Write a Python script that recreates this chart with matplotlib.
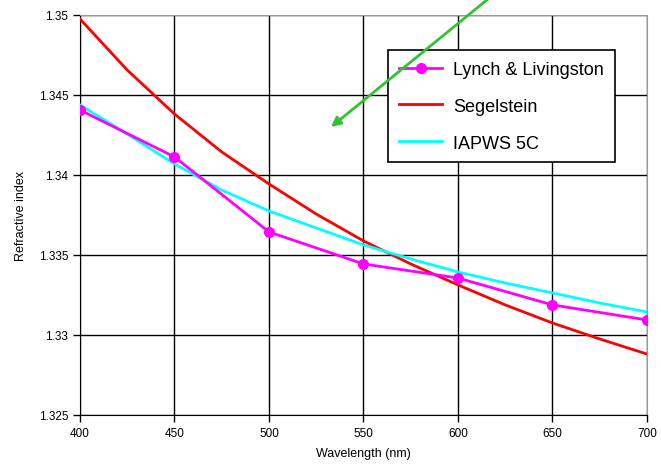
import matplotlib.pyplot as plt
from matplotlib.ticker import FormatStrFormatter

plt.rcParams["font.family"] = ["Liberation Sans", "DejaVu Sans"]

lynch_wl = [400, 450, 500, 550, 600, 650, 700]
lynch_n = [1.34406, 1.34113, 1.33644, 1.33444, 1.33356, 1.33188, 1.33094]

curve_wl = [400, 425, 450, 475, 500, 525, 550, 575, 600, 625, 650, 675, 700]
segelstein_n = [1.34975, 1.34656, 1.34381, 1.34144, 1.33944, 1.33756, 1.33588,
                1.33444, 1.33313, 1.33188, 1.33075, 1.32975, 1.32881]
iapws_n = [1.34438, 1.34256, 1.34069, 1.33906, 1.33775, 1.33669, 1.33563,
           1.33475, 1.33394, 1.33325, 1.33263, 1.33200, 1.33144]

fig = plt.figure(figsize=(6.61, 4.77), dpi=100)
ax = fig.add_axes([80 / 661, 1 - 416 / 477, 567 / 661, 400 / 477])

ax.plot(lynch_wl, lynch_n, color="#ff00ff", lw=2, marker="o", ms=7,
        label="Lynch & Livingston", zorder=4)
ax.plot(curve_wl, segelstein_n, color="#ff0000", lw=2, label="Segelstein", zorder=3)
ax.plot(curve_wl, iapws_n, color="#00ffff", lw=2, label="IAPWS 5C", zorder=3)

ax.set_xlim(400, 700)
ax.set_ylim(1.325, 1.35)
ax.set_xticks(range(400, 701, 50))
ax.set_yticks([1.325, 1.33, 1.335, 1.34, 1.345, 1.35])
ax.yaxis.set_major_formatter(FormatStrFormatter("%g"))
ax.grid(True, color="black", lw=1)
ax.set_axisbelow(True)
ax.tick_params(direction="out", length=5, width=1, labelsize=8.5)

for side in ["top", "right"]:
    ax.spines[side].set_color("#999999")
for side in ["left", "bottom"]:
    ax.spines[side].set_color("black")

ax.set_xlabel("Wavelength (nm)", fontsize=9, labelpad=6)
ax.set_ylabel("Refractive index", fontsize=9, labelpad=8)

leg = ax.legend(loc="upper left", bbox_to_anchor=((388 - 80) / 567, (416 - 51) / 400),
                fontsize=13, frameon=True, fancybox=False, framealpha=1,
                edgecolor="black", handlelength=2.4, borderpad=0.6, labelspacing=1.1,
                handletextpad=0.6, borderaxespad=0)
leg.get_frame().set_linewidth(1.2)

ax.annotate("", xy=(331 / 661, 1 - 128 / 477), xycoords="figure fraction",
            xytext=(488 / 661, 1.0), textcoords="figure fraction",
            arrowprops=dict(arrowstyle="-|>", color="#33c233", lw=2,
                            mutation_scale=14, shrinkA=0, shrinkB=0),
            annotation_clip=False, zorder=10)

fig.savefig("out.png", dpi=100)
